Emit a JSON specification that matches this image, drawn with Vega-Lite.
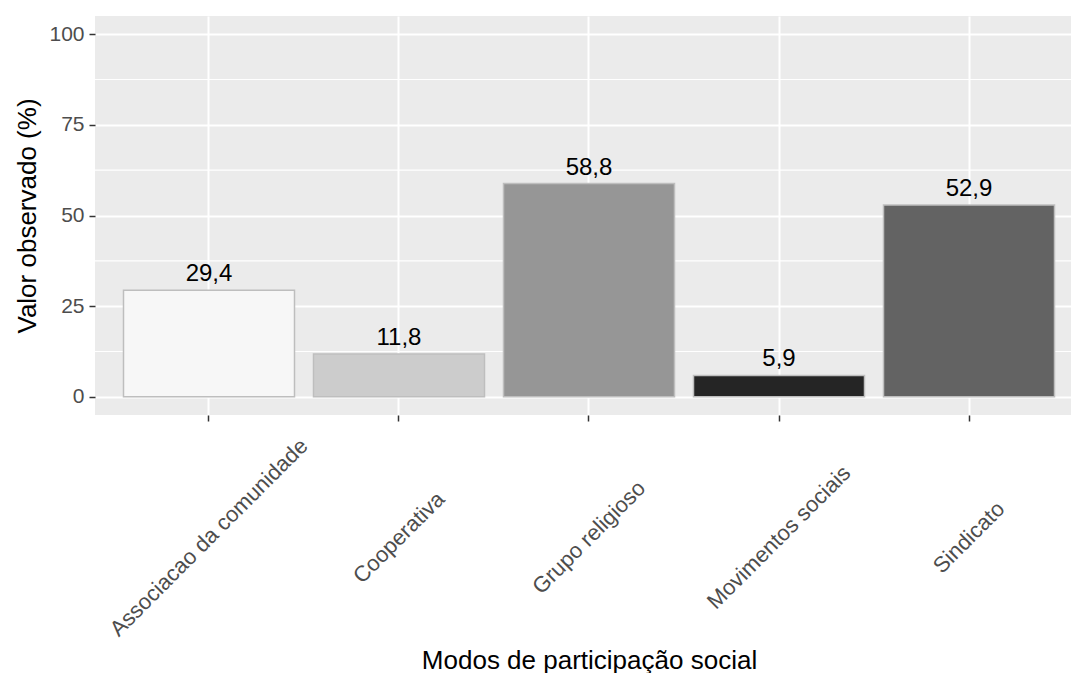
{
  "$schema": "https://vega.github.io/schema/vega-lite/v6.json",
  "width": 988,
  "height": 399,
  "autosize": {"type": "none"},
  "padding": {"left": 95, "top": 16, "right": 0, "bottom": 258},
  "background": "white",
  "config": {
    "locale": {"number": {"decimal": ",", "thousands": ".", "grouping": [3], "currency": ["R$", ""]}},
    "view": {"fill": "#EBEBEB", "stroke": null},
    "font": "Liberation Sans"
  },
  "datasets": {
    "bars": [
      {"modo": "Associacao da comunidade", "valor": 29.4},
      {"modo": "Cooperativa", "valor": 11.8},
      {"modo": "Grupo religioso", "valor": 58.8},
      {"modo": "Movimentos sociais", "valor": 5.9},
      {"modo": "Sindicato", "valor": 52.9}
    ],
    "minor": [
      {"valor": 12.5},
      {"valor": 37.5},
      {"valor": 62.5},
      {"valor": 87.5}
    ]
  },
  "layer": [
    {
      "data": {"name": "minor"},
      "mark": {"type": "rule", "color": "white", "strokeWidth": 1.2},
      "encoding": {
        "y": {
          "field": "valor", "type": "quantitative",
          "scale": {"domain": [-5, 105], "nice": false, "zero": false},
          "axis": {
            "title": "Valor observado (%)",
            "values": [0, 25, 50, 75, 100],
            "domain": false,
            "grid": true, "gridColor": "white", "gridWidth": 2,
            "tickSize": 6, "tickColor": "#333333", "tickWidth": 1.5,
            "labelPadding": 5, "labelFontSize": 21, "labelColor": "#4D4D4D",
            "titleFontSize": 26, "titleFontWeight": "normal", "titleColor": "#000000",
            "titleAngle": 270, "titleBaseline": "alphabetic", "titleAlign": "center",
            "titleX": -60, "titleY": 199.5
          }
        }
      }
    },
    {
      "data": {"name": "bars"},
      "mark": {"type": "bar", "stroke": "#BEBEBE", "strokeWidth": 1.5},
      "encoding": {
        "x": {
          "field": "modo", "type": "nominal", "sort": null,
          "scale": {"paddingInner": 0.1, "paddingOuter": 0.15},
          "axis": {
            "title": "Modos de participação social",
            "bandPosition": 0.5,
            "domain": false,
            "grid": true, "gridColor": "white", "gridWidth": 2,
            "ticks": true, "tickSize": 6, "tickColor": "#333333", "tickWidth": 1.5,
            "labelAngle": -45, "labelAlign": "center", "labelBaseline": "middle",
            "labelPadding": 116, "labelFontSize": 22, "labelColor": "#4D4D4D",
            "labelOverlap": false, "labelLimit": 0,
            "titleFontSize": 26, "titleFontWeight": "normal", "titleColor": "#000000",
            "titleBaseline": "alphabetic", "titleY": 253
          }
        },
        "y": {
          "field": "valor", "type": "quantitative",
          "scale": {"domain": [-5, 105], "nice": false, "zero": false},
          "axis": {
            "title": "Valor observado (%)",
            "values": [0, 25, 50, 75, 100],
            "domain": false,
            "grid": true, "gridColor": "white", "gridWidth": 2,
            "tickSize": 6, "tickColor": "#333333", "tickWidth": 1.5,
            "labelPadding": 5, "labelFontSize": 21, "labelColor": "#4D4D4D",
            "titleFontSize": 26, "titleFontWeight": "normal", "titleColor": "#000000",
            "titleAngle": 270, "titleBaseline": "alphabetic", "titleAlign": "center",
            "titleX": -60, "titleY": 199.5
          }
        },
        "fill": {
          "field": "modo", "type": "nominal", "sort": null,
          "scale": {
            "domain": ["Associacao da comunidade", "Cooperativa", "Grupo religioso", "Movimentos sociais", "Sindicato"],
            "range": ["#F7F7F7", "#CCCCCC", "#969696", "#252525", "#636363"]
          },
          "legend": null
        }
      }
    },
    {
      "data": {"name": "bars"},
      "mark": {"type": "text", "baseline": "alphabetic", "dy": -9, "fontSize": 24, "color": "#000000"},
      "encoding": {
        "x": {"field": "modo", "type": "nominal", "sort": null},
        "y": {"field": "valor", "type": "quantitative"},
        "text": {"field": "valor", "type": "quantitative", "format": ".1f"}
      }
    }
  ]
}
